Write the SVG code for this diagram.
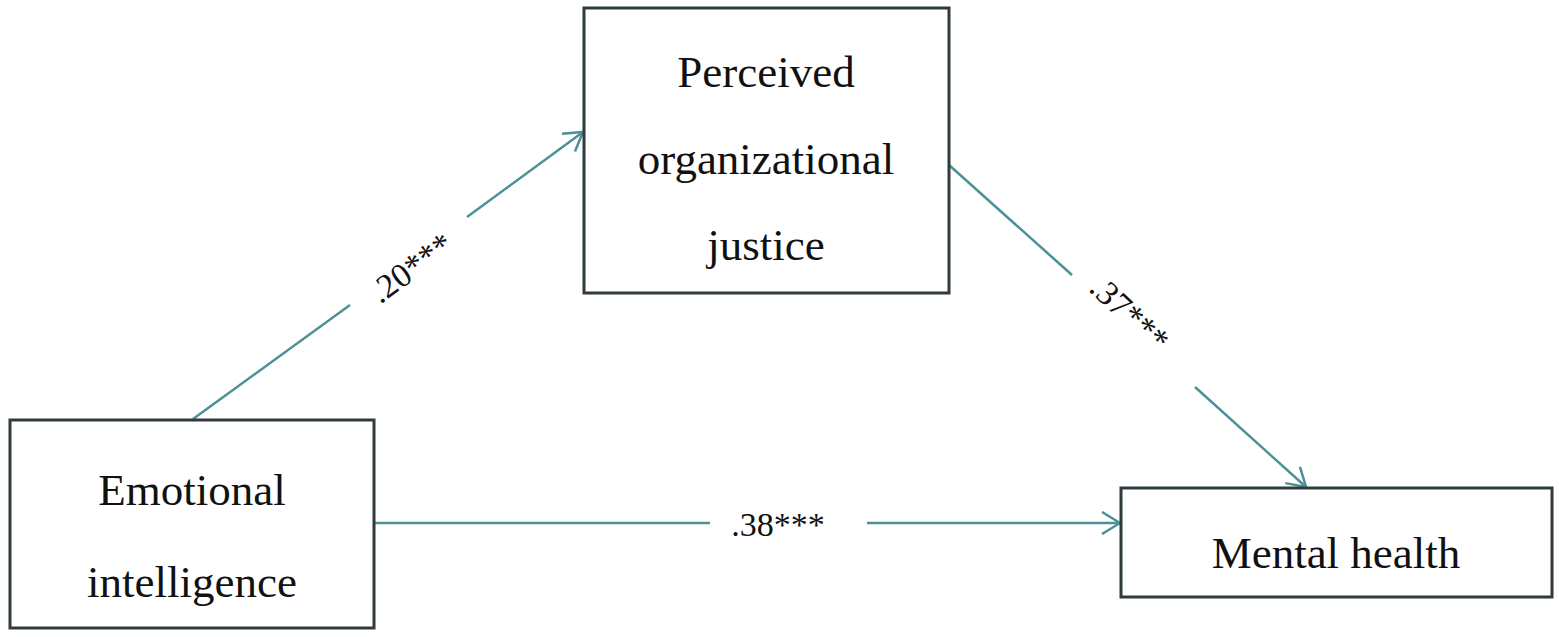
<svg xmlns="http://www.w3.org/2000/svg" width="1559" height="637" viewBox="0 0 1559 637">
  <style>
    .box { fill: #ffffff; stroke: #2f3b3e; stroke-width: 3; }
    .node-text { font-family: "Liberation Serif", "Times New Roman", serif; font-size: 45px; fill: #111111; text-anchor: middle; }
    .edge { fill: none; stroke: #4b9195; stroke-width: 2.5; }
    .edge-label { font-family: "Liberation Serif", "Times New Roman", serif; font-size: 34px; fill: #111111; text-anchor: middle; }
  </style>
  <defs>
    <marker id="arrow" viewBox="0 0 20 24" refX="19" refY="12" markerWidth="20" markerHeight="24" markerUnits="userSpaceOnUse" orient="auto">
      <path d="M1,1 L19,12 L1,23" fill="none" stroke="#4b9195" stroke-width="2.5"/>
    </marker>
  </defs>
  <rect width="1559" height="637" fill="#ffffff"/>

  <g id="connectors">
    <!-- Emotional intelligence -> Perceived organizational justice -->
    <line class="edge" x1="193" y1="419" x2="350" y2="305"/>
    <line class="edge" x1="467" y1="217" x2="583" y2="132" marker-end="url(#arrow)"/>
    <text class="edge-label" x="418" y="277" transform="rotate(-36 418 277)">.20***</text>
    <!-- Perceived organizational justice -> Mental health -->
    <line class="edge" x1="949" y1="165" x2="1072" y2="275"/>
    <line class="edge" x1="1195" y1="387" x2="1306" y2="487" marker-end="url(#arrow)"/>
    <text class="edge-label" x="1122" y="322" transform="rotate(43 1122 322)">.37***</text>
    <!-- Emotional intelligence -> Mental health -->
    <line class="edge" x1="375" y1="523" x2="710" y2="523"/>
    <line class="edge" x1="867" y1="523" x2="1120" y2="523" marker-end="url(#arrow)"/>
    <text class="edge-label" x="778" y="536">.38***</text>
  </g>

  <g id="node-emotional-intelligence">
    <rect class="box" x="10" y="420" width="364" height="208"/>
    <text class="node-text" x="192" y="505">Emotional</text>
    <text class="node-text" x="192" y="597">intelligence</text>
  </g>

  <g id="node-perceived-organizational-justice">
    <rect class="box" x="584" y="8" width="365" height="285"/>
    <text class="node-text" x="766" y="87">Perceived</text>
    <text class="node-text" x="766" y="174">organizational</text>
    <text class="node-text" x="766" y="260">justice</text>
  </g>

  <g id="node-mental-health">
    <rect class="box" x="1121" y="488" width="431" height="109"/>
    <text class="node-text" x="1336" y="568">Mental health</text>
  </g>
</svg>
